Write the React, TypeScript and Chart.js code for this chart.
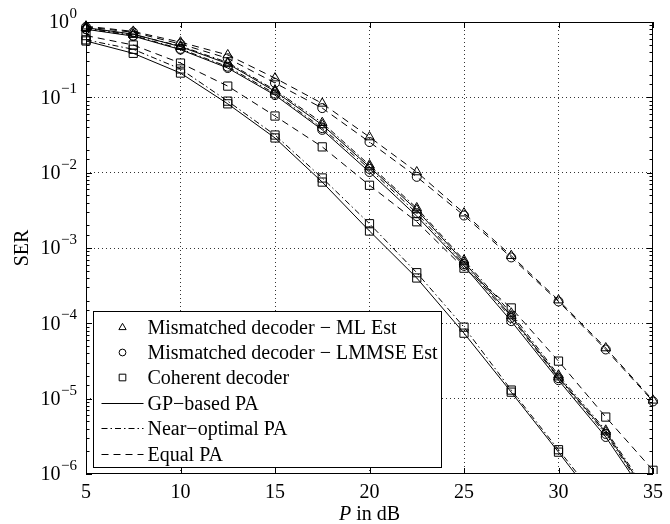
import React, { useEffect, useRef } from 'react';
import { Chart, registerables } from 'chart.js';

Chart.register(...registerables);

// ---------- data ----------
const snrDb = [5, 7.5, 10, 12.5, 15, 17.5, 20, 22.5, 25, 27.5, 30, 32.5, 35];
const xTickValues = [5, 10, 15, 20, 25, 30, 35];
const yDecades = [1, 1e-1, 1e-2, 1e-3, 1e-4, 1e-5, 1e-6];
const yExponents = ['0', '−1', '−2', '−3', '−4', '−5', '−6'];

// Mismatched decoder - ML estimate (triangles)
const mlGp = [0.84, 0.69, 0.47, 0.28, 0.12, 0.043, 0.0119, 0.0032, 6.5e-4, 1.25e-4, 1.93e-5, 3.6e-6, 4.2e-7];
const mlNear = [0.83, 0.68, 0.48, 0.29, 0.125, 0.046, 0.0126, 0.0034, 6.9e-4, 1.36e-4, 2.05e-5, 3.8e-6, 4.5e-7];
const mlEqual = [0.88, 0.75, 0.54, 0.365, 0.18, 0.083, 0.0297, 0.0102, 0.0029, 7.9e-4, 2.03e-4, 4.7e-5, 9.5e-6];
// Mismatched decoder - LMMSE estimate (circles)
const lmmseGp = [0.8, 0.65, 0.43, 0.245, 0.107, 0.037, 0.0102, 0.00265, 5.8e-4, 1.07e-4, 1.76e-5, 3.1e-6, 3.7e-7];
const lmmseNear = [0.81, 0.66, 0.44, 0.255, 0.112, 0.039, 0.0112, 0.0029, 6.1e-4, 1.18e-4, 1.87e-5, 3.4e-6, 4.0e-7];
const lmmseEqual = [0.86, 0.73, 0.51, 0.33, 0.155, 0.072, 0.0255, 0.0088, 0.0027, 7.5e-4, 1.95e-4, 4.5e-5, 9.2e-6];
// Coherent decoder (squares)
const cohGp = [0.56, 0.384, 0.21, 0.082, 0.0289, 0.0075, 0.00168, 0.0004, 7.4e-5, 1.22e-5, 1.95e-6, 3.0e-7, null];
const cohNear = [0.58, 0.434, 0.238, 0.089, 0.0316, 0.0085, 0.0021, 0.00047, 8.9e-5, 1.3e-5, 2.1e-6, 3.4e-7, null];
const cohEqual = [0.66, 0.495, 0.285, 0.141, 0.0565, 0.022, 0.0068, 0.00223, 5.4e-4, 1.6e-4, 3.15e-5, 5.7e-6, 1.12e-6];

const markerLegend = ['Mismatched decoder − ML Est', 'Mismatched decoder − LMMSE Est', 'Coherent decoder'];
const lineLegend = ['GP−based PA', 'Near−optimal PA', 'Equal PA'];

// ---------- styles ----------
const FONT = "'Liberation Serif', 'Times New Roman', serif";
const INK = '#000';
const DASH_SOLID: number[] = [];
const DASH_DOTDASH = [6, 3, 1.5, 3];
const DASH_DASHED = [7, 5];
const lineDashes = [DASH_SOLID, DASH_DOTDASH, DASH_DASHED];
const markerStyles = ['triangle', 'circle', 'rect'];
const markerRadii = [5.5, 4.5, 5.8];
const legendMarkerRadii = [4.2, 3.4, 4.7];

const isDecade = (v: number) => Math.abs(Math.log10(v) - Math.round(Math.log10(v))) < 1e-9;

function mkSet(label: string, values: (number | null)[], marker: number, dash: number) {
  return {
    label,
    data: snrDb.map((x, i) => ({ x, y: values[i] })),
    borderColor: INK,
    borderWidth: 1,
    borderDash: lineDashes[dash],
    pointStyle: markerStyles[marker],
    pointRadius: markerRadii[marker],
    pointBorderColor: INK,
    pointBackgroundColor: 'rgba(0,0,0,0)',
    pointBorderWidth: 1,
    tension: 0,
    fill: false,
    clip: { left: 8, right: 8, top: 8, bottom: 0 },
  };
}

function drawMarker(ctx: CanvasRenderingContext2D, style: string, x: number, y: number, r: number) {
  ctx.beginPath();
  if (style === 'triangle') {
    ctx.moveTo(x, y - r);
    ctx.lineTo(x + r * Math.sin((2 * Math.PI) / 3), y - r * Math.cos((2 * Math.PI) / 3));
    ctx.lineTo(x + r * Math.sin((4 * Math.PI) / 3), y - r * Math.cos((4 * Math.PI) / 3));
    ctx.closePath();
  } else if (style === 'circle') {
    ctx.arc(x, y, r, 0, Math.PI * 2);
  } else {
    const s = r * Math.SQRT1_2;
    ctx.rect(x - s, y - s, 2 * s, 2 * s);
  }
  ctx.stroke();
}

const matlabPlugin = {
  id: 'matlabAxes',
  afterDraw(chart: any) {
    const { ctx, chartArea: a } = chart;
    const xs = chart.scales.x;
    const ys = chart.scales.y;
    ctx.save();
    ctx.strokeStyle = INK;
    ctx.lineWidth = 1;
    ctx.setLineDash([]);
    // frame
    ctx.strokeRect(Math.round(a.left) + 0.5, Math.round(a.top) + 0.5, Math.round(a.width) - 1, Math.round(a.height) - 1);
    // y ticks (inside, both sides)
    ctx.beginPath();
    for (const t of ys.ticks) {
      const py = Math.round(ys.getPixelForValue(t.value)) + 0.5;
      const len = isDecade(t.value) ? 6 : 3.5;
      ctx.moveTo(a.left, py);
      ctx.lineTo(a.left + len, py);
      ctx.moveTo(a.right, py);
      ctx.lineTo(a.right - len, py);
    }
    // x ticks (inside, top and bottom)
    for (const v of xTickValues) {
      const px = Math.round(xs.getPixelForValue(v)) + 0.5;
      ctx.moveTo(px, a.bottom);
      ctx.lineTo(px, a.bottom - 6);
      ctx.moveTo(px, a.top);
      ctx.lineTo(px, a.top + 6);
    }
    ctx.stroke();

    // y tick labels 10^k
    ctx.fillStyle = INK;
    ctx.textBaseline = 'middle';
    ctx.textAlign = 'right';
    const right = a.left - 9;
    yDecades.forEach((v, i) => {
      const py = ys.getPixelForValue(v);
      ctx.font = `15px ${FONT}`;
      const we = ctx.measureText(yExponents[i]).width;
      ctx.fillText(yExponents[i], right, py - 8);
      ctx.font = `20px ${FONT}`;
      ctx.fillText('10', right - we - 0.5, py + 1);
    });

    // x axis title: italic P + " in dB"
    ctx.textBaseline = 'alphabetic';
    ctx.textAlign = 'left';
    ctx.font = `italic 20px ${FONT}`;
    const wP = ctx.measureText('P').width;
    ctx.font = `20px ${FONT}`;
    const wRest = ctx.measureText(' in dB').width;
    const cx = (a.left + a.right) / 2;
    const x0 = cx - (wP + wRest) / 2;
    const by = 520;
    ctx.font = `italic 20px ${FONT}`;
    ctx.fillText('P', x0, by);
    ctx.font = `20px ${FONT}`;
    ctx.fillText(' in dB', x0 + wP, by);

    // legend box
    const bl = Math.round(a.left + 7) + 0.5;
    const bt = Math.round(a.bottom - 163) + 0.5;
    const bw = 348;
    const bh = 156;
    ctx.fillStyle = '#fff';
    ctx.fillRect(bl, bt, bw, bh);
    ctx.strokeRect(bl, bt, bw, bh);
    const rowOffsets = [16, 41, 66, 91, 116, 142];
    const symX = bl + 29;
    const textX = bl + 54;
    ctx.font = `20px ${FONT}`;
    ctx.textBaseline = 'middle';
    ctx.textAlign = 'left';
    markerLegend.forEach((label, i) => {
      const yy = bt + rowOffsets[i];
      ctx.setLineDash([]);
      ctx.lineWidth = 1;
      ctx.strokeStyle = INK;
      drawMarker(ctx, markerStyles[i], symX, yy, legendMarkerRadii[i]);
      ctx.fillStyle = INK;
      ctx.fillText(label, textX, yy + 1);
    });
    lineLegend.forEach((label, i) => {
      const yy = Math.round(bt + rowOffsets[3 + i]) + 0.5;
      ctx.setLineDash(lineDashes[i]);
      ctx.beginPath();
      ctx.moveTo(bl + 8, yy);
      ctx.lineTo(bl + 50, yy);
      ctx.stroke();
      ctx.setLineDash([]);
      ctx.fillStyle = INK;
      ctx.fillText(label, textX, yy + 1);
    });
    ctx.restore();
  },
};

export default function App() {
  const canvasRef = useRef<HTMLCanvasElement | null>(null);

  useEffect(() => {
    if (!canvasRef.current) return;
    const datasets = [
      mkSet('ML Est, GP-based PA', mlGp, 0, 0),
      mkSet('ML Est, Near-optimal PA', mlNear, 0, 1),
      mkSet('ML Est, Equal PA', mlEqual, 0, 2),
      mkSet('LMMSE Est, GP-based PA', lmmseGp, 1, 0),
      mkSet('LMMSE Est, Near-optimal PA', lmmseNear, 1, 1),
      mkSet('LMMSE Est, Equal PA', lmmseEqual, 1, 2),
      mkSet('Coherent, GP-based PA', cohGp, 2, 0),
      mkSet('Coherent, Near-optimal PA', cohNear, 2, 1),
      mkSet('Coherent, Equal PA', cohEqual, 2, 2),
    ];
    const chart = new Chart(canvasRef.current, {
      type: 'line',
      data: { datasets: datasets as any },
      options: {
        animation: false,
        responsive: true,
        maintainAspectRatio: false,
        layout: { padding: { top: 22, right: 12, left: 0, bottom: 0 } },
        plugins: { legend: { display: false }, tooltip: { enabled: false } },
        scales: {
          x: {
            type: 'linear',
            min: 5,
            max: 35,
            afterBuildTicks: (scale: any) => {
              scale.ticks = xTickValues.map((v) => ({ value: v }));
            },
            afterFit: (scale: any) => {
              scale.height = 50;
            },
            ticks: {
              color: INK,
              font: { family: FONT, size: 20 },
              padding: 7,
              autoSkip: false,
              maxRotation: 0,
            },
            grid: {
              color: (c: any) => (c.tick && c.tick.value > 5 && c.tick.value < 35 ? '#333' : 'rgba(0,0,0,0)'),
              lineWidth: 1,
              drawTicks: false,
            },
            border: { display: false, dash: [1, 3] },
          },
          y: {
            type: 'logarithmic',
            min: 1e-6,
            max: 1,
            afterFit: (scale: any) => {
              scale.width = 86;
            },
            ticks: { display: false },
            title: {
              display: true,
              text: 'SER',
              color: INK,
              font: { family: FONT, size: 20 },
              padding: { top: 11, bottom: 0 },
            },
            grid: {
              color: (c: any) =>
                c.tick && isDecade(c.tick.value) && c.tick.value < 0.99 && c.tick.value > 1.01e-6 ? '#333' : 'rgba(0,0,0,0)',
              lineWidth: 1,
              drawTicks: false,
            },
            border: { display: false, dash: [1, 3] },
          },
        },
      },
      plugins: [matlabPlugin],
    });
    return () => chart.destroy();
  }, []);

  return (
    <div style={{ position: 'fixed', left: 0, top: 0, width: 670, height: 524, background: '#fff' }}>
      <canvas ref={canvasRef} />
    </div>
  );
}
